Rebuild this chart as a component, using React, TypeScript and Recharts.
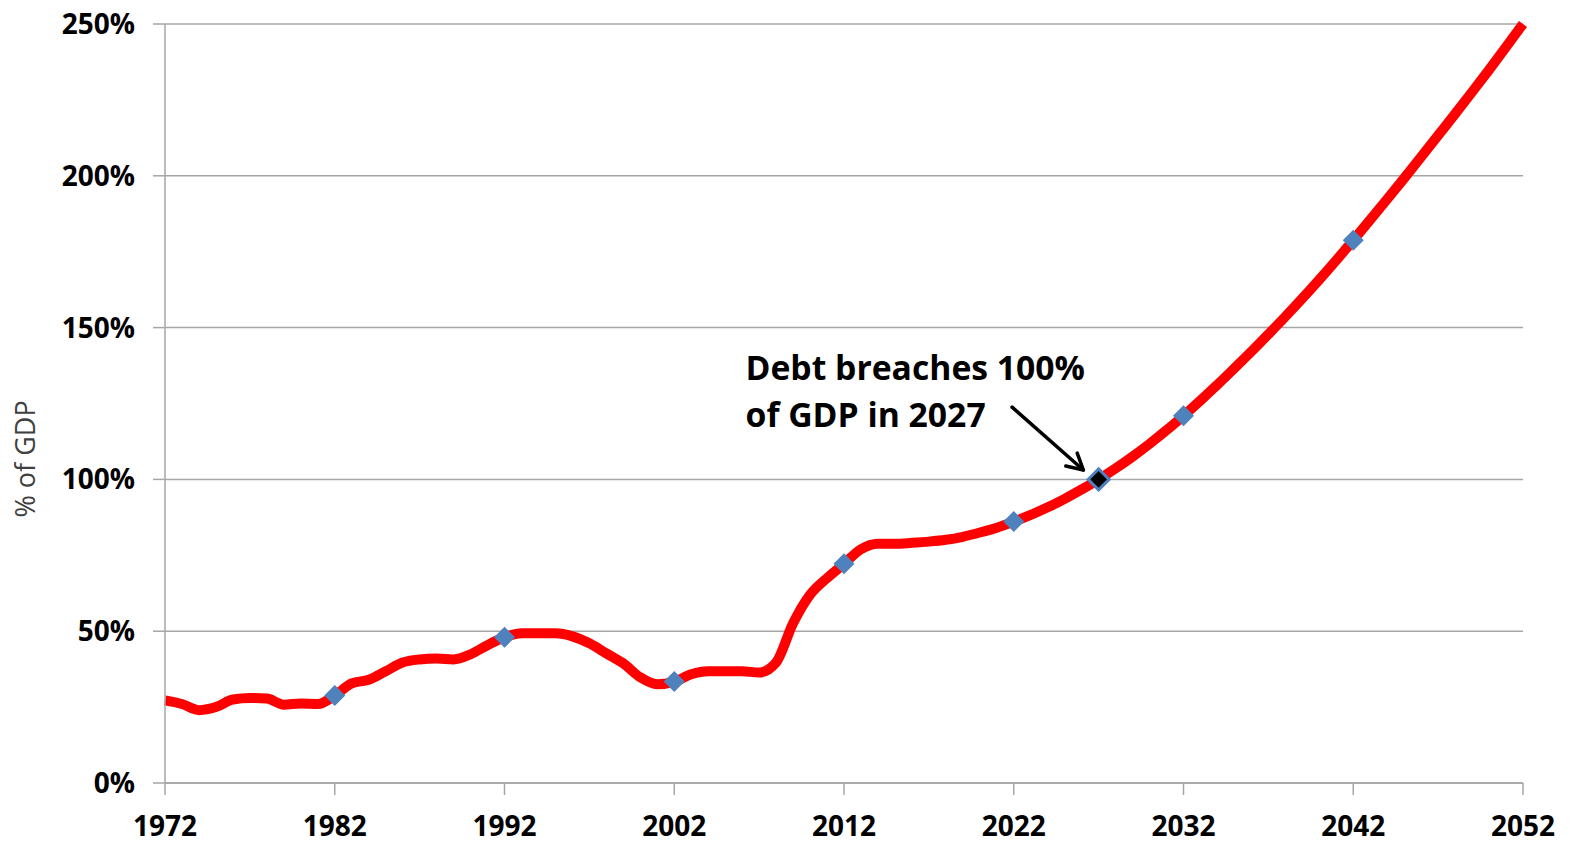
import { LineChart, Line, XAxis, YAxis, CartesianGrid, ReferenceLine, ReferenceDot } from 'recharts';

const years = [
  1972, 1973, 1974, 1975, 1976, 1977, 1978, 1979, 1980, 1981,
  1982, 1983, 1984, 1985, 1986, 1987, 1988, 1989, 1990, 1991,
  1992, 1993, 1994, 1995, 1996, 1997, 1998, 1999, 2000, 2001,
  2002, 2003, 2004, 2005, 2006, 2007, 2008, 2009, 2010, 2011,
  2012, 2013, 2014, 2015, 2016, 2017, 2018, 2019, 2020, 2021,
  2022, 2023, 2024, 2025, 2026, 2027, 2028, 2029, 2030, 2031,
  2032, 2033, 2034, 2035, 2036, 2037, 2038, 2039, 2040, 2041,
  2042, 2043, 2044, 2045, 2046, 2047, 2048, 2049, 2050, 2051,
  2052,
];

// debt held by the public, % of GDP
const debt = [
  27.2, 26.0, 24.0, 25.0, 27.5, 28.0, 27.8, 25.8, 26.2, 26.0,
  28.8, 32.8, 34.0, 36.8, 39.7, 40.7, 41.0, 40.7, 42.4, 45.4,
  48.0, 49.3, 49.3, 49.3, 48.3, 46.0, 42.7, 39.4, 34.8, 32.5,
  33.4, 35.8, 36.8, 36.8, 36.8, 36.4, 39.7, 52.6, 62.0, 67.5,
  72.2, 77.0, 78.8, 78.8, 79.1, 79.5, 80.1, 81.1, 82.5, 84.1,
  86.1, 88.3, 90.8, 93.6, 96.7, 100.0, 103.6, 107.5, 111.7, 116.2,
  121.0, 126.0, 131.2, 136.6, 142.1, 147.8, 153.6, 159.6, 165.8, 172.2,
  178.8, 185.5, 192.3, 199.2, 206.2, 213.3, 220.4, 227.6, 234.9, 242.4,
  250.0,
];

const markerYears = [1982, 1992, 2002, 2012, 2022, 2032, 2042];
const breachYear = 2027;

const xTicks = [1972, 1982, 1992, 2002, 2012, 2022, 2032, 2042, 2052];
const yTicks = [0, 50, 100, 150, 200, 250];

const noteLines = ['Debt breaches 100%', 'of GDP in 2027'];
const noteAt = { x: 2006.2, y: 132.7 };
const arrowFrom = { x: 2021.9, y: 123.8 };
const arrowTo = { x: 2026.1, y: 103.1 };

const data = years.map((year, i) => ({ year, debt: debt[i] }));

const FONT = '"Open Sans", sans-serif';
const GRID = '#a6a6a6';

const Marker = (props: any) => {
  const { cx, cy, payload, index } = props;
  const r = 10.5;
  const pts = `${cx},${cy - r} ${cx + r},${cy} ${cx},${cy + r} ${cx - r},${cy}`;
  if (payload.year === breachYear) {
    return <polygon key={index} points={pts} fill="#000" stroke="#4f81bd" strokeWidth={3} />;
  }
  if (!markerYears.includes(payload.year)) return <g key={index} />;
  return <polygon key={index} points={pts} fill="#4f81bd" />;
};

const Arrow = (props: any) => {
  const { x1, y1, x2, y2 } = props;
  const a = Math.atan2(y2 - y1, x2 - x1);
  const len = 18;
  const h1x = x2 - len * Math.cos(a - 0.5);
  const h1y = y2 - len * Math.sin(a - 0.5);
  const h2x = x2 - len * Math.cos(a + 0.5);
  const h2y = y2 - len * Math.sin(a + 0.5);
  return (
    <g stroke="#000" strokeWidth={3.5} fill="none" strokeLinecap="round">
      <line x1={x1} y1={y1} x2={x2} y2={y2} />
      <polyline points={`${h1x},${h1y} ${x2},${y2} ${h2x},${h2y}`} strokeLinejoin="round" />
    </g>
  );
};

const Note = (props: any) => (
  <text x={props.cx} y={props.cy} fontFamily={FONT} fontWeight="bold" fontSize={33.7} fill="#000">
    {noteLines.map((t, i) => (
      <tspan key={i} x={props.cx} dy={i === 0 ? 0 : 47}>{t}</tspan>
    ))}
  </text>
);

const YLabel = (props: any) => {
  const { viewBox } = props;
  const x = viewBox.x + 25;
  const y = viewBox.y + viewBox.height * 0.573;
  return (
    <text x={x} y={y} transform={`rotate(-90, ${x}, ${y})`} textAnchor="middle" dominantBaseline="central"
      fontFamily={FONT} fontSize={27} fill="#404040">
      % of GDP
    </text>
  );
};

const App = () => {
  return (
    <div style={{ position: 'absolute', left: 0, top: 0, background: '#fff' }}>
      <LineChart width={1575} height={843} data={data} margin={{ top: 24, right: 52, bottom: 0, left: 0 }}>
        <CartesianGrid vertical={false} stroke={GRID} strokeWidth={1.5} />
        <XAxis
          dataKey="year"
          type="number"
          domain={[1972, 2052]}
          ticks={xTicks}
          height={60}
          tickSize={12}
          tickMargin={21}
          axisLine={{ stroke: GRID, strokeWidth: 1.5 }}
          tickLine={{ stroke: GRID, strokeWidth: 1.5 }}
          tick={{ fill: '#000', fontFamily: FONT, fontWeight: 'bold', fontSize: 28 }}
          interval={0}
        />
        <YAxis
          domain={[0, 250]}
          ticks={yTicks}
          width={165}
          tickSize={12}
          tickMargin={18}
          tickFormatter={(v: number) => `${v}%`}
          axisLine={{ stroke: GRID, strokeWidth: 1.5 }}
          tickLine={{ stroke: GRID, strokeWidth: 1.5 }}
          tick={{ fill: '#000', fontFamily: FONT, fontWeight: 'bold', fontSize: 28 }}
          interval={0}
          label={<YLabel />}
        />
        <Line
          dataKey="debt"
          type="monotone"
          stroke="#ff0000"
          strokeWidth={10}
          dot={Marker}
          activeDot={false}
          isAnimationActive={false}
        />
        <ReferenceLine segment={[arrowFrom, arrowTo]} shape={Arrow} ifOverflow="visible" />
        <ReferenceDot x={noteAt.x} y={noteAt.y} r={0} shape={Note} ifOverflow="visible" />
      </LineChart>
    </div>
  );
};

export default App;
